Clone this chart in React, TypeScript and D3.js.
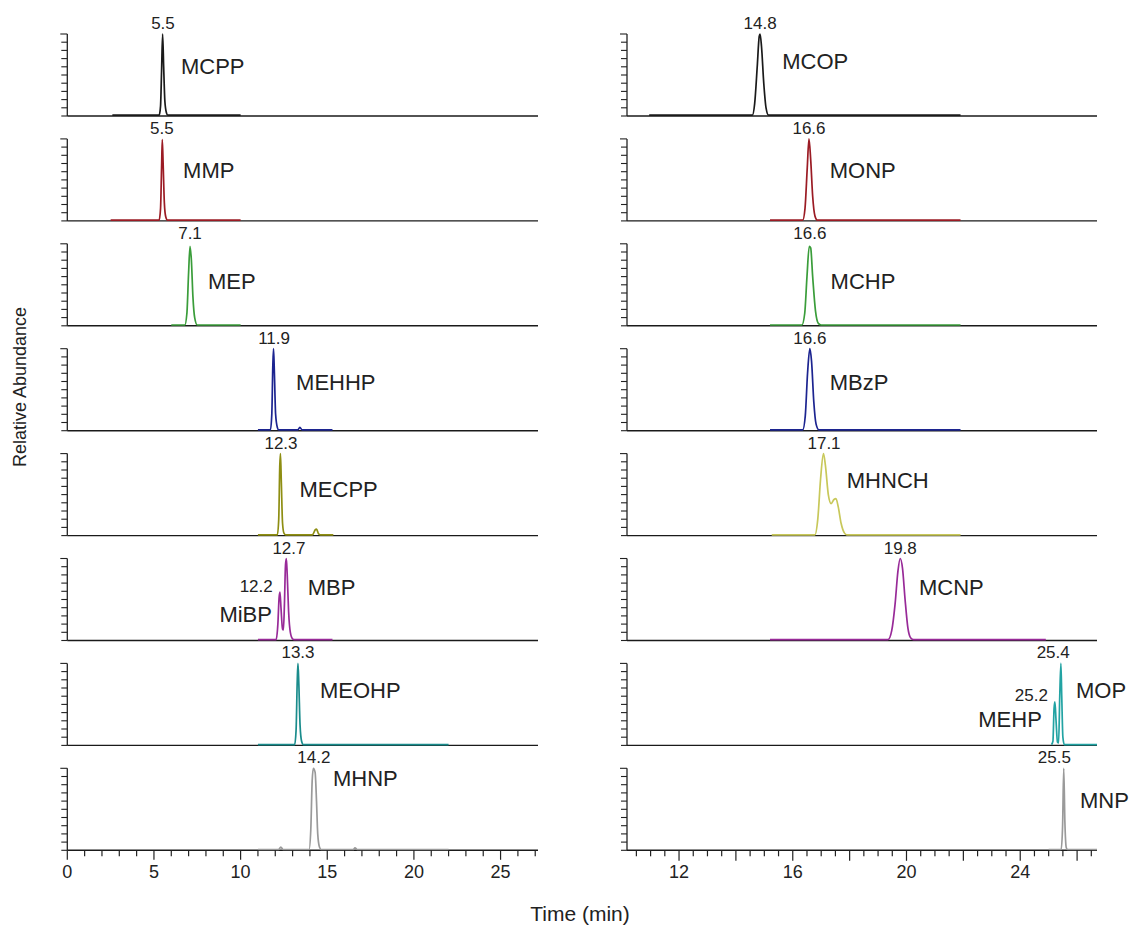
import React from "react";
import * as d3 from "d3";

// ---------------- DATA ----------------
// Left panel compounds (top to bottom)
const leftNames = ["MCPP", "MMP", "MEP", "MEHHP", "MECPP", "MBP", "MEOHP", "MHNP"];
const rightNames = ["MCOP", "MONP", "MCHP", "MBzP", "MHNCH", "MCNP", "MOP", "MNP"];

const leftPeakLabels = ["5.5", "5.5", "7.1", "11.9", "12.3", "12.7", "13.3", "14.2"];
const rightPeakLabels = ["14.8", "16.6", "16.6", "16.6", "17.1", "19.8", "25.4", "25.5"];

// [time (min), relative abundance (%)]
const mcppTrace = [[2.6, 1], [5.3, 1], [5.38, 12], [5.44, 55], [5.5, 100], [5.56, 60], [5.63, 18], [5.72, 4], [5.8, 1], [10.0, 1]];
const mmpTrace = [[2.5, 1], [5.3, 1], [5.38, 15], [5.44, 65], [5.48, 99], [5.53, 70], [5.6, 22], [5.68, 5], [5.78, 1], [10.0, 1]];
const mepTrace = [[6.0, 1], [6.78, 1], [6.9, 15], [7.0, 65], [7.08, 97], [7.16, 80], [7.25, 35], [7.35, 10], [7.5, 1], [10.0, 1]];
const mehhpTrace = [[11.0, 1], [11.72, 1], [11.8, 20], [11.86, 80], [11.9, 100], [11.95, 70], [12.02, 20], [12.12, 4], [12.2, 1], [13.3, 1], [13.42, 4], [13.55, 1], [15.3, 1]];
const mecppTrace = [[11.0, 1], [12.12, 1], [12.2, 20], [12.26, 85], [12.3, 100], [12.35, 65], [12.42, 15], [12.5, 3], [12.6, 1], [14.15, 1], [14.3, 7], [14.38, 8], [14.5, 2], [14.6, 1], [15.35, 1]];
const mbpTrace = [[11.0, 1], [12.05, 1], [12.15, 20], [12.22, 52], [12.27, 59], [12.33, 40], [12.42, 14], [12.47, 13], [12.53, 45], [12.59, 92], [12.64, 100], [12.69, 80], [12.77, 35], [12.87, 10], [13.0, 2], [13.1, 1], [15.3, 1]];
const meohpTrace = [[11.0, 1], [13.12, 1], [13.2, 18], [13.27, 80], [13.31, 100], [13.36, 75], [13.43, 25], [13.52, 5], [13.62, 1], [22.0, 1]];
const mhnpTrace = [[11.0, 1], [12.2, 1], [12.32, 4], [12.45, 1], [13.95, 1], [14.05, 25], [14.13, 85], [14.2, 100], [14.3, 95], [14.38, 60], [14.45, 20], [14.55, 4], [14.65, 1], [16.5, 1], [16.6, 3], [16.72, 1], [22.0, 1]];

const mcopTrace = [[10.95, 1], [14.58, 1], [14.66, 15], [14.75, 60], [14.82, 97], [14.85, 100], [14.9, 85], [14.98, 40], [15.06, 10], [15.15, 1], [21.9, 1]];
const monpTrace = [[15.2, 1], [16.35, 1], [16.43, 15], [16.51, 65], [16.57, 100], [16.63, 75], [16.7, 30], [16.78, 6], [16.86, 1], [21.9, 1]];
const mchpTrace = [[15.2, 1], [16.32, 1], [16.42, 15], [16.5, 60], [16.58, 97], [16.63, 95], [16.7, 60], [16.8, 18], [16.9, 3], [17.0, 1], [21.9, 1]];
const mbzpTrace = [[15.2, 1], [16.35, 1], [16.44, 18], [16.52, 70], [16.6, 100], [16.66, 85], [16.74, 35], [16.82, 8], [16.92, 1], [21.9, 1]];
const mhnchTrace = [[15.26, 1], [16.78, 1], [16.88, 20], [16.98, 70], [17.08, 100], [17.15, 85], [17.25, 50], [17.35, 39], [17.45, 44], [17.52, 45], [17.6, 35], [17.7, 15], [17.82, 3], [17.9, 1], [21.9, 1]];
const mcnpTrace = [[15.2, 1], [19.35, 1], [19.48, 12], [19.6, 45], [19.7, 85], [19.78, 100], [19.86, 88], [19.95, 50], [20.05, 15], [20.15, 3], [20.25, 1], [24.9, 1]];
const mopTrace = [[25.1, 1], [25.15, 5], [25.19, 45], [25.22, 53], [25.26, 30], [25.31, 4], [25.35, 3], [25.39, 60], [25.43, 100], [25.46, 60], [25.5, 10], [25.55, 1], [26.7, 1]];
const mnpTrace = [[25.0, 1], [25.44, 1], [25.49, 30], [25.53, 100], [25.57, 35], [25.62, 3], [25.66, 1], [26.7, 1]];

const leftTraces = [mcppTrace, mmpTrace, mepTrace, mehhpTrace, mecppTrace, mbpTrace, meohpTrace, mhnpTrace];
const rightTraces = [mcopTrace, monpTrace, mchpTrace, mbzpTrace, mhnchTrace, mcnpTrace, mopTrace, mnpTrace];

// Secondary annotated peaks
const extraNames = ["MiBP", "MEHP"];
const extraPeakLabels = ["12.2", "25.2"];

const leftTicksMajor = [0, 5, 10, 15, 20, 25];
const rightTickLabels = [12, 16, 20, 24];

// ---------------- LAYOUT / STYLE ----------------
const W = 1133;
const H = 928;
const ROW_TOP0 = 34;
const ROW_PITCH = 104.9;
const ROW_H = 82;
const FONT = "'Liberation Sans', Arial, Helvetica, sans-serif";

const leftColors = ["#1a1a1a", "#9b1b24", "#3a9d3a", "#1c2490", "#8e8e12", "#982a98", "#1a8c8c", "#9a9a9a"];
const rightColors = ["#1a1a1a", "#9b1b24", "#3a9d3a", "#1c2490", "#c8c85a", "#982a98", "#22a3a3", "#9a9a9a"];

// label placement: number label x (min), name label [x (min), y (% of row)]
const leftNumAt = [5.52, 5.46, 7.08, 11.93, 12.33, 12.79, 13.31, 14.23];
const rightNumAt = [14.85, 16.57, 16.6, 16.6, 17.1, 19.78, 25.16, 25.2];
const leftNameAt = [[6.56, 61], [6.68, 62], [8.12, 55], [13.2, 59], [13.4, 57], [13.87, 65], [14.58, 68], [15.33, 88]];
const rightNameAt = [[15.63, 67], [17.3, 62], [17.33, 55], [17.3, 59], [17.9, 68], [20.44, 65], [25.96, 67], [26.1, 61]];
const extraPanel = ["left", "right"];
const extraRow = [5, 6];
const extraNumAt = [[10.9, 59], [24.39, 54]];
const extraNameEnd = [[11.81, 32], [24.76, 32]];

const xLeft = d3.scaleLinear().domain([0, 27.16]).range([67.3, 538]);
const xRight = d3.scaleLinear().domain([10.17, 26.7]).range([627, 1097]);

const rowY = (i: number) => {
  const top = ROW_TOP0 + i * ROW_PITCH;
  return d3.scaleLinear().domain([0, 100]).range([top + ROW_H, top]);
};

const NAME_SIZE = 22;
const NUM_SIZE = 17;
const TICK_SIZE = 18;

function Panel({ x, names, traces, colors, nums, numAt, nameAt }: any) {
  const [x0, x1] = x.range();
  return (
    <g>
      {names.map((name: string, i: number) => {
        const y = rowY(i);
        const line = d3
          .line<number[]>()
          .x((d) => x(d[0]))
          .y((d) => y(d[1]))
          .curve(d3.curveMonotoneX);
        const yTicks = d3.range(0, 101, 10);
        return (
          <g key={name}>
            <line x1={x0} x2={x0} y1={y(100)} y2={y(0)} stroke="#222" strokeWidth={1.3} />
            {yTicks.map((t) => (
              <line key={t} x1={x0 - (t === 100 ? 7 : 6)} x2={x0} y1={y(t)} y2={y(t)} stroke="#222" strokeWidth={1.1} />
            ))}
            <line x1={x0} x2={x1} y1={y(0)} y2={y(0)} stroke="#1a1a1a" strokeWidth={1.4} />
            <path d={line(traces[i]) || ""} fill="none" stroke={colors[i]} strokeWidth={1.7} strokeLinejoin="round" />
            <text x={x(numAt[i])} y={y(100) - 5} fontSize={NUM_SIZE} textAnchor="middle" fill="#222" fontFamily={FONT}>
              {nums[i]}
            </text>
            <text x={x(nameAt[i][0])} y={y(nameAt[i][1]) + NAME_SIZE * 0.36} fontSize={NAME_SIZE} fill="#222" fontFamily={FONT}>
              {name}
            </text>
          </g>
        );
      })}
    </g>
  );
}

export default function App() {
  const baseY = rowY(7)(0);
  const leftMinor = d3.range(0, 28, 1);
  const rightMinor = d3.range(10.5, 26.75, 0.5);
  const rightMajor = d3.range(12, 27, 2);
  return (
    <svg width={W} height={H} style={{ position: "absolute", left: 0, top: 0, background: "#fff" }} fontFamily={FONT}>
      <rect x={0} y={0} width={W} height={H} fill="#fff" />
      <Panel x={xLeft} names={leftNames} traces={leftTraces} colors={leftColors} nums={leftPeakLabels} numAt={leftNumAt} nameAt={leftNameAt} />
      <Panel x={xRight} names={rightNames} traces={rightTraces} colors={rightColors} nums={rightPeakLabels} numAt={rightNumAt} nameAt={rightNameAt} />

      {extraNames.map((n, k) => {
        const x = extraPanel[k] === "left" ? xLeft : xRight;
        const y = rowY(extraRow[k]);
        return (
          <g key={n}>
            <text x={x(extraNumAt[k][0])} y={y(extraNumAt[k][1])} fontSize={NUM_SIZE} textAnchor="middle" fill="#222">
              {extraPeakLabels[k]}
            </text>
            <text x={x(extraNameEnd[k][0])} y={y(extraNameEnd[k][1]) + NAME_SIZE * 0.36} fontSize={NAME_SIZE} textAnchor="end" fill="#222">
              {n}
            </text>
          </g>
        );
      })}

      {leftMinor.map((t) => (
        <line key={"lm" + t} x1={xLeft(t)} x2={xLeft(t)} y1={baseY} y2={baseY + (t % 5 === 0 ? 9.5 : 6)} stroke="#222" strokeWidth={1.2} />
      ))}
      {leftTicksMajor.map((t) => (
        <text key={"ll" + t} x={xLeft(t)} y={baseY + 28} fontSize={TICK_SIZE} textAnchor="middle" fill="#222">
          {t}
        </text>
      ))}
      {rightMinor.map((t) => (
        <line key={"rm" + t} x1={xRight(t)} x2={xRight(t)} y1={baseY} y2={baseY + (rightMajor.includes(t) ? 10.5 : 6)} stroke="#222" strokeWidth={1.2} />
      ))}
      {rightTickLabels.map((t) => (
        <text key={"rl" + t} x={xRight(t)} y={baseY + 28} fontSize={TICK_SIZE} textAnchor="middle" fill="#222">
          {t}
        </text>
      ))}

      <text x={580} y={921} fontSize={21} textAnchor="middle" fill="#222">
        Time (min)
      </text>
      <text transform={`translate(26, 387) rotate(-90)`} fontSize={18} textAnchor="middle" fill="#222">
        Relative Abundance
      </text>
    </svg>
  );
}
